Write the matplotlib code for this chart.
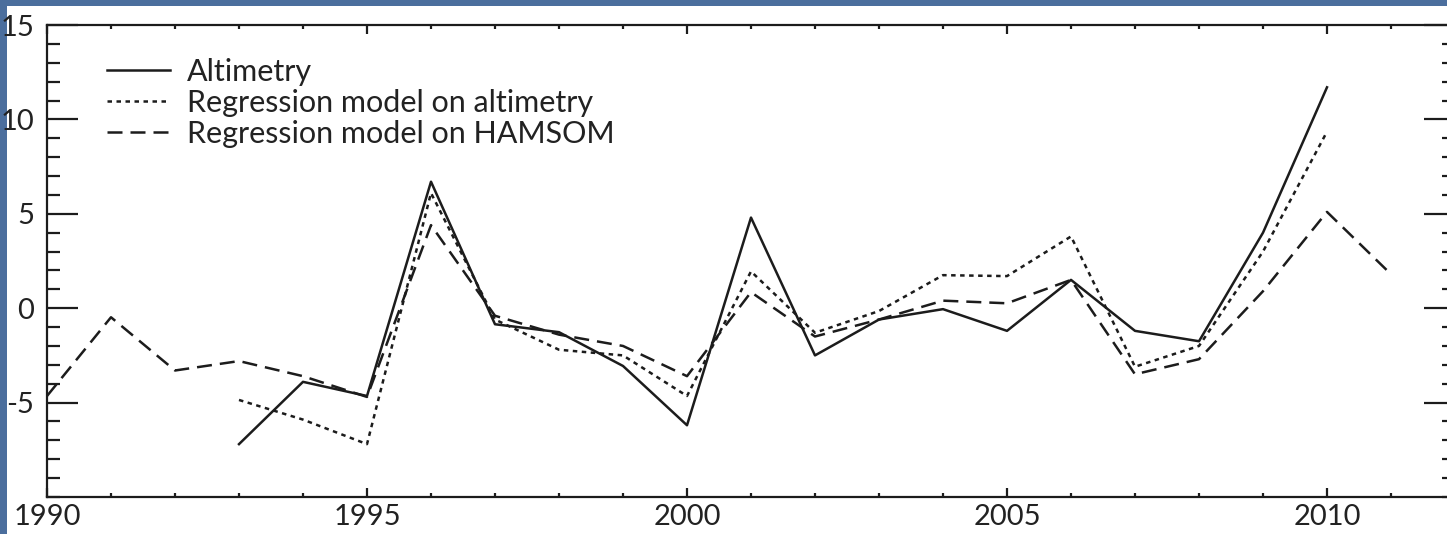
import matplotlib
matplotlib.use("Agg")
import matplotlib.pyplot as plt
from matplotlib.patches import Rectangle
from matplotlib.ticker import MultipleLocator

# Annual anomaly series
years_hamsom = list(range(1990, 2012))
hamsom = [-4.65, -0.48, -3.3, -2.8, -3.6, -4.7, 4.4, -0.4, -1.4, -2.0, -3.6,
          0.85, -1.5, -0.6, 0.4, 0.26, 1.5, -3.5, -2.7, 0.9, 5.1, 1.8]

years_alt = list(range(1993, 2011))
altimetry = [-7.2, -3.9, -4.65, 6.7, -0.85, -1.27, -3.06, -6.2, 4.8, -2.5,
             -0.6, -0.05, -1.2, 1.5, -1.2, -1.75, 4.0, 11.7]
reg_altimetry = [-4.86, -5.9, -7.2, 6.1, -0.6, -2.2, -2.5, -4.65, 1.95, -1.3,
                 -0.15, 1.75, 1.7, 3.8, -3.1, -2.0, 3.0, 9.35]

labels = ["Altimetry", "Regression model on altimetry", "Regression model on HAMSOM"]
x_major_ticks = [1990, 1995, 2000, 2005, 2010]
y_major_ticks = [-5, 0, 5, 10, 15]

plt.rcParams["font.family"] = ["Lato", "DejaVu Sans"]
plt.rcParams["axes.unicode_minus"] = False

W, H = 1447, 534
fig = plt.figure(figsize=(W / 100, H / 100), dpi=100)
fig.patch.set_facecolor("#4b6e9d")
fig.patches.append(Rectangle((7 / W, 0), 1, 1 - 6 / H, transform=fig.transFigure,
                             facecolor="white", edgecolor="none", zorder=-5))

ax = fig.add_axes([47 / W, 37 / H, (1455 - 47) / W, (509 - 37) / H])
ax.set_facecolor("white")

ink = "#1c1c1c"
lw = 1.8
ax.plot(years_alt, altimetry, color=ink, lw=lw, ls="-", label=labels[0])
ax.plot(years_alt, reg_altimetry, color=ink, lw=lw, ls=(0, (1.8, 1.8)), label=labels[1])
ax.plot(years_hamsom, hamsom, color=ink, lw=lw, ls=(0, (6, 3.2)), label=labels[2])

ax.set_xlim(1990, 2012)
ax.set_ylim(-10, 15)
ax.set_xticks(x_major_ticks)
ax.set_yticks(y_major_ticks)
ax.xaxis.set_minor_locator(MultipleLocator(1))
ax.yaxis.set_minor_locator(MultipleLocator(1))

for s in ax.spines.values():
    s.set_linewidth(1.6)
    s.set_color(ink)

ax.tick_params(which="both", direction="in", top=True, right=True, colors=ink,
               labelsize=21, labelcolor="#222222", width=1.6)
ax.tick_params(axis="x", which="major", length=6.5, pad=5)
ax.tick_params(axis="x", which="minor", length=3)
ax.tick_params(axis="y", which="major", length=22, pad=9)
ax.tick_params(axis="y", which="minor", length=9.5)

leg = ax.legend(loc="upper left", bbox_to_anchor=(107 / W, 1 - 58 / H),
                bbox_transform=fig.transFigure, frameon=False, fontsize=22,
                handlelength=2.07, handletextpad=0.55, labelspacing=0.1,
                borderpad=0, borderaxespad=0)
for t in leg.get_texts():
    t.set_color("#222222")

fig.savefig("out.png", dpi=100, facecolor=fig.get_facecolor())
